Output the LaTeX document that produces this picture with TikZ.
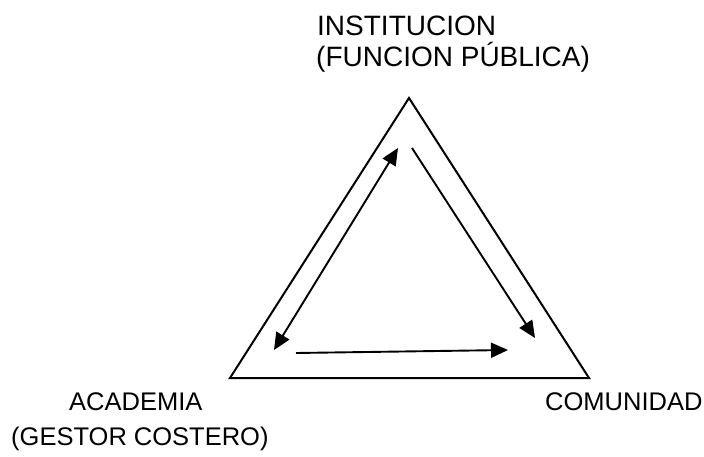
\documentclass[tikz,border=0pt]{standalone}
\usepackage{fontspec}
\setmainfont{Liberation Sans}
\usetikzlibrary{arrows.meta}
\begin{document}
\begin{tikzpicture}[x=1pt,y=-1pt,
  lbl/.style={anchor=base west,inner sep=0pt,font=\fontsize{25.5}{30}\selectfont},
  toplbl/.style={lbl,font=\fontsize{28}{32}\selectfont},
  edge/.style={line width=2pt},
  tip/.tip={Triangle[length=17pt,width=15pt]},
  arr/.style={line width=1.9pt,-tip},
  darr/.style={line width=1.9pt,tip-tip}]
\useasboundingbox (0,0) rectangle (704,457);
% triangle
\coordinate (top) at (409,98);
\coordinate (bl) at (230,378);
\coordinate (br) at (589,378);
\draw[edge,line join=miter] (top) -- (bl) -- (br) -- cycle;
% arrows
\coordinate (a1) at (398,148);
\coordinate (a2) at (274,350);
\coordinate (b1) at (412,148);
\coordinate (b2) at (535,338);
\coordinate (c1) at (296,353);
\coordinate (c2) at (508,350);
\draw[darr] (a2) -- (a1);
\draw[arr] (b1) -- (b2);
\draw[arr] (c1) -- (c2);
% labels
\node[toplbl] (inst) at (317,36) {INSTITUCION};
\node[toplbl] (func) at (316,67) {(FUNCION PÚBLICA)};
\node[lbl] (acad) at (69,410) {ACADEMIA};
\node[lbl] (gest) at (11,445) {(GESTOR COSTERO)};
\node[lbl] (comu) at (545,410) {COMUNIDAD};
\end{tikzpicture}
\end{document}
